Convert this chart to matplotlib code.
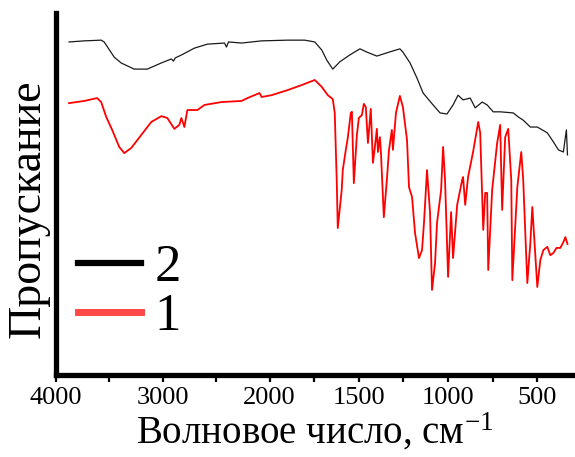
import numpy as np
import matplotlib
matplotlib.use("Agg")
import matplotlib.pyplot as plt
from matplotlib.lines import Line2D
from matplotlib.ticker import FixedLocator, FixedFormatter

plt.rcParams['font.family'] = ['Liberation Serif', 'DejaVu Serif']
plt.rcParams['mathtext.fontset'] = 'stix'

# ---- data (wavenumber, cm-1 ; transmittance, a.u. %) ----
wn_2 = [3878, 3737, 3577, 3549, 3455, 3390, 3268, 3145, 3014, 2920, 2900, 2883, 2826,
        2704, 2582, 2422, 2404, 2385, 2263, 2075, 1899, 1803, 1747, 1708, 1680, 1646,
        1607, 1551, 1494, 1455, 1399, 1343, 1270, 1253, 1213, 1174, 1140, 1084, 1045,
        1006, 972, 944, 916, 876, 848, 809, 781, 747, 708, 635, 607, 579, 539, 500,
        444, 410, 382, 354, 337, 331]
tr_2 = [92.0, 92.3, 92.5, 92.0, 87.8, 86.2, 84.5, 84.5, 86.2, 87.3, 86.7, 87.6, 88.4,
        90.3, 91.4, 91.7, 90.6, 92.0, 91.7, 92.3, 92.5, 92.5, 92.0, 89.8, 87.0, 84.5,
        86.5, 88.4, 90.1, 89.2, 88.1, 89.0, 90.1, 89.2, 86.2, 82.0, 77.9, 74.6, 72.4,
        72.1, 74.6, 77.3, 76.0, 76.5, 73.8, 75.4, 74.6, 72.7, 72.7, 72.4, 71.3, 70.4,
        68.5, 68.5, 66.9, 64.4, 62.2, 61.6, 67.7, 60.8]

wn_1 = [3878, 3737, 3615, 3577, 3530, 3474, 3408, 3361, 3296, 3202, 3108, 3014, 2958,
        2892, 2845, 2826, 2798, 2770, 2676, 2610, 2451, 2263, 2207, 2094, 2075, 1989,
        1899, 1820, 1747, 1708, 1674, 1646, 1635, 1624, 1618, 1596, 1590, 1573, 1562,
        1545, 1539, 1528, 1511, 1500, 1483, 1472, 1461, 1449, 1433, 1421, 1410, 1399,
        1393, 1382, 1376, 1360, 1343, 1331, 1315, 1309, 1292, 1270, 1253, 1230, 1219,
        1202, 1185, 1163, 1146, 1135, 1118, 1101, 1090, 1073, 1062, 1039, 1028, 1017,
        1000, 983, 972, 949, 921, 916, 904, 888, 860, 831, 820, 803, 792, 781, 775,
        753, 725, 708, 697, 680, 663, 646, 640, 612, 590, 579, 556, 539, 528, 500,
        483, 466, 444, 427, 410, 393, 371, 354, 343, 331]
tr_1 = [75.1, 75.7, 76.5, 75.4, 71.3, 67.7, 63.0, 61.3, 62.7, 66.3, 69.9, 71.5, 71.0,
        68.0, 69.1, 71.0, 68.5, 73.2, 73.2, 74.6, 75.4, 75.7, 76.5, 77.9, 76.8, 77.3,
        78.7, 80.1, 81.5, 79.6, 77.3, 76.2, 72.4, 53.9, 40.6, 51.1, 56.6, 62.2, 65.5,
        72.4, 72.7, 53.0, 66.3, 71.0, 71.8, 74.9, 74.0, 64.1, 73.5, 58.6, 63.0, 68.0,
        61.6, 65.7, 61.3, 43.6, 53.9, 62.2, 67.7, 62.2, 72.4, 77.1, 74.0, 64.9, 51.9,
        49.2, 39.2, 32.3, 34.5, 42.0, 56.6, 44.8, 23.5, 30.9, 42.0, 51.1, 63.0, 53.9,
        27.1, 45.0, 32.3, 47.0, 53.9, 54.7, 47.0, 54.7, 61.6, 69.9, 66.9, 40.1, 50.3,
        50.3, 29.0, 51.1, 64.1, 69.1, 45.6, 65.7, 68.0, 53.9, 26.2, 51.9, 61.6, 53.9,
        25.4, 36.5, 46.4, 24.3, 31.8, 34.5, 35.4, 33.1, 33.7, 35.1, 35.1, 36.7, 38.1,
        36.2]

series_labels = ["2", "1"]
major_ticks = [4000, 3500, 3000, 2500, 2000, 1750, 1500, 1250, 1000, 750, 500]
major_labels = ["4000", "", "3000", "", "2000", "", "1500", "", "1000", "", "500"]
minor_ticks = list(range(4000, 2000, -100)) + list(range(2000, 300, -50))

# ---- split x scale: expanded below 2000 cm-1 ----
K = 1.671
def fwd(w):
    w = np.asarray(w, dtype=float)
    return np.where(w >= 2000, w, 2000 - (2000 - w) * K)
def inv(u):
    u = np.asarray(u, dtype=float)
    return np.where(u >= 2000, u, 2000 - (2000 - u) / K)

fig = plt.figure(figsize=(5.75, 4.57), dpi=100)
ax = fig.add_axes([56/575, 82/457, (573-56)/575, (444-82)/457])
ax.set_xscale('function', functions=(fwd, inv))

ax.plot(wn_2, tr_2, color='#1a1a1a', lw=0.9)
ax.plot(wn_1, tr_1, color='#ff0000', lw=1.3)

ax.set_xlim(4000, 300)
ax.set_ylim(0, 100)

for s in ['top', 'right']:
    ax.spines[s].set_visible(False)
for s in ['left', 'bottom']:
    ax.spines[s].set_linewidth(3.8)

ax.xaxis.set_major_locator(FixedLocator(major_ticks))
ax.xaxis.set_major_formatter(FixedFormatter(major_labels))
ax.xaxis.set_minor_locator(FixedLocator(minor_ticks))
ax.tick_params(axis='x', which='major', direction='out', length=5, width=1.6,
               labelsize=19, pad=4)
ax.tick_params(axis='x', which='minor', direction='out', length=2.5, width=1.4)
ax.set_yticks([])

ax.set_xlabel("Волновое число, см$^{\\mathregular{-1}}$", fontsize=28, labelpad=1)
ax.set_ylabel("Пропускание", fontsize=33)
ax.yaxis.set_label_coords(-0.012, 0.46)

handles = [Line2D([], [], color='#000000', lw=4.5),
           Line2D([], [], color='#ff4848', lw=5)]
leg = ax.legend(handles, series_labels, loc='upper left',
                bbox_to_anchor=(78/575, 1 - 244/457), bbox_transform=fig.transFigure,
                frameon=False, fontsize=38, handlelength=1.2, handletextpad=0.25,
                borderpad=0, borderaxespad=0, labelspacing=0.02)

fig.savefig("out.png", dpi=100)
